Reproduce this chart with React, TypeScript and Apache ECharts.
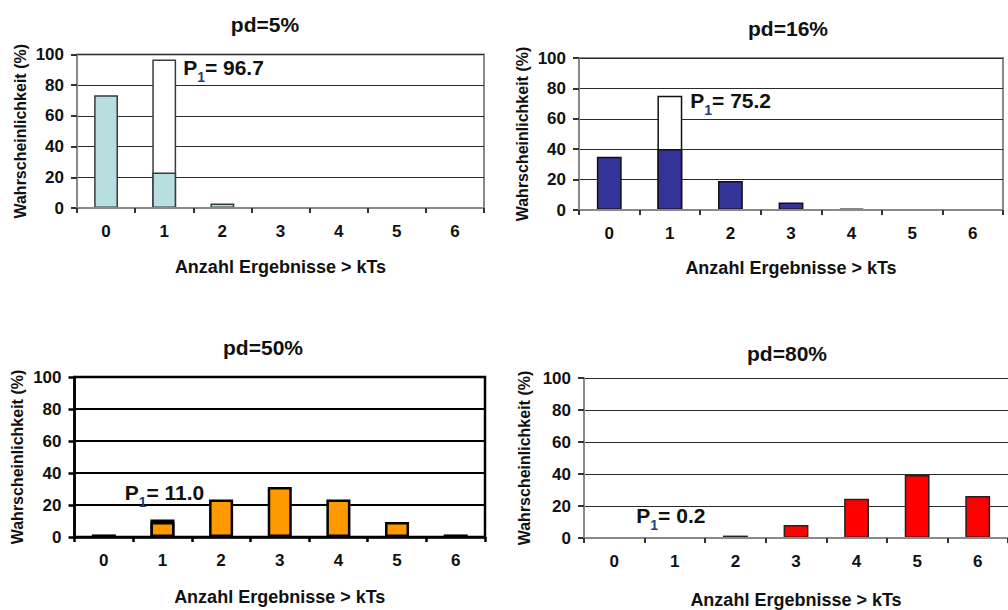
import React, { useEffect, useRef } from 'react';
import * as echarts from 'echarts';

// Number of results above kTs
const categories = ['0', '1', '2', '3', '4', '5', '6'];
const yTickValues = [0, 20, 40, 60, 80, 100];

const titles = ['pd=5%', 'pd=16%', 'pd=50%', 'pd=80%'];

// Probability (%) for each count, one array per default probability
const pd5 = [73.5, 23.2, 3.0, 0.2, 0, 0, 0];
const pd16 = [35.1, 40.1, 19.1, 4.9, 0.9, 0.05, 0];
const pd50 = [1.6, 9.4, 23.4, 31.3, 23.4, 9.4, 1.6];
const pd80 = [0.01, 0.15, 1.5, 8.2, 24.6, 39.3, 26.2];

// Cumulative probability P1 = P(0) + P(1)
const p1Values = [96.7, 75.2, 11.0, 0.2];

const xName = 'Anzahl Ergebnisse > kTs';
const yName = 'Wahrscheinlichkeit (%)';

const FONT = '"Liberation Sans", Arial, Helvetica, sans-serif';

const panels = [
  {
    values: pd5, p1: p1Values[0], title: titles[0],
    fill: '#B7DFE0', border: '#3a3a3a', borderW: 1.5,
    grid: { left: 77, top: 54.5, width: 407, height: 153.5 },
    titlePos: [265, 24],
    frame: { show: true, color: '#8a8a8a', width: 2 },
    split: { color: '#2a2a2a', width: 1 },
    axis: { color: '#8a8a8a', width: 2 },
    label: { mode: 'right', offset: [7, -9], distance: 0 },
    nameGap: 50, yNameGap: 49,
  },
  {
    values: pd16, p1: p1Values[1], title: titles[1],
    fill: '#333399', border: '#111111', borderW: 1.5,
    grid: { left: 579, top: 58, width: 424, height: 152 },
    titlePos: [788, 28],
    frame: { show: true, color: '#8a8a8a', width: 2 },
    split: { color: '#2a2a2a', width: 1 },
    axis: { color: '#8a8a8a', width: 2 },
    label: { mode: 'right', offset: [8, -12], distance: 0 },
    nameGap: 49, yNameGap: 49,
  },
  {
    values: pd50, p1: p1Values[2], title: titles[2],
    fill: '#FF9900', border: '#000000', borderW: 2.5,
    grid: { left: 74.5, top: 377, width: 410.5, height: 160 },
    titlePos: [263, 347],
    frame: { show: true, color: '#000000', width: 2.5 },
    split: { color: '#000000', width: 2 },
    axis: { color: '#000000', width: 2.5 },
    label: { mode: 'top', offset: [2, 0], distance: 10 },
    nameGap: 51, yNameGap: 49,
  },
  {
    values: pd80, p1: p1Values[3], title: titles[3],
    fill: '#FF0000', border: '#222222', borderW: 1.5,
    grid: { left: 584, top: 378, width: 429, height: 162 },
    titlePos: [787, 353],
    frame: { show: false, color: '#8a8a8a', width: 2 },
    split: { color: '#2a2a2a', width: 1 },
    axis: { color: '#8a8a8a', width: 2 },
    label: { mode: 'top', offset: [-4, 0], distance: 5 },
    nameGap: 53, yNameGap: 52,
  },
];

const rich = {
  m: { fontFamily: FONT, fontSize: 21, fontWeight: 'bold', color: '#111111', lineHeight: 33, verticalAlign: 'middle' },
  s: { fontFamily: FONT, fontSize: 14, fontWeight: 'bold', color: '#1F3F7A', lineHeight: 14, verticalAlign: 'bottom' },
};

function buildOption() {
  const grid: any[] = [];
  const xAxis: any[] = [];
  const yAxis: any[] = [];
  const series: any[] = [];
  const graphic: any[] = [];

  panels.forEach((pn, i) => {
    const tickColor = pn.axis.color === '#000000' ? '#000000' : '#333333';

    grid.push({
      ...pn.grid,
      show: pn.frame.show,
      borderColor: pn.frame.color,
      borderWidth: pn.frame.width,
      backgroundColor: 'transparent',
      containLabel: false,
    });

    // the category axis sits above the bars so that the baseline covers tiny bars
    xAxis.push({
      type: 'category',
      gridIndex: i,
      data: categories,
      boundaryGap: true,
      z: 5,
      axisLine: { show: true, lineStyle: { color: pn.axis.color, width: pn.axis.width } },
      axisTick: { show: true, length: 5, lineStyle: { color: tickColor, width: pn.axis.width } },
      axisLabel: { fontFamily: FONT, fontSize: 17, fontWeight: 'bold', color: '#111111', margin: 15 },
      splitLine: { show: false },
      name: xName,
      nameLocation: 'middle',
      nameGap: pn.nameGap,
      nameTextStyle: { fontFamily: FONT, fontSize: 18, fontWeight: 'bold', color: '#111111' },
    });

    yAxis.push({
      type: 'value',
      gridIndex: i,
      min: yTickValues[0],
      max: yTickValues[yTickValues.length - 1],
      interval: yTickValues[1] - yTickValues[0],
      axisLine: { show: true, lineStyle: { color: pn.axis.color, width: pn.axis.width } },
      axisTick: { show: true, length: 6, lineStyle: { color: tickColor, width: pn.axis.width } },
      axisLabel: { fontFamily: FONT, fontSize: 17, fontWeight: 'bold', color: '#111111', margin: 13 },
      splitLine: { show: true, lineStyle: { color: pn.split.color, width: pn.split.width } },
      name: yName,
      nameLocation: 'middle',
      nameRotate: 90,
      nameGap: pn.yNameGap,
      nameTextStyle: { fontFamily: FONT, fontSize: 16, fontWeight: 'bold', color: '#111111' },
    });

    const labelCommon: any = {
      show: true,
      formatter: (p: any) => `{m|P}{s|1}{m|= ${Number(p.value).toFixed(1)}}`,
      rich,
    };
    const label =
      pn.label.mode === 'right'
        ? { ...labelCommon, position: ['100%', 0], align: 'left', verticalAlign: 'top', offset: pn.label.offset }
        : { ...labelCommon, position: 'top', distance: pn.label.distance, offset: pn.label.offset };

    // cumulative P1 bar, drawn behind the single probabilities
    series.push({
      type: 'bar',
      name: 'P1 ' + pn.title,
      xAxisIndex: i,
      yAxisIndex: i,
      data: categories.map((_, k) => (k === 1 ? pn.p1 : '-')),
      barWidth: '41%',
      barGap: '-100%',
      itemStyle: { color: '#ffffff', borderColor: pn.border, borderWidth: pn.borderW },
      label,
      z: 2,
    });

    series.push({
      type: 'bar',
      name: pn.title,
      xAxisIndex: i,
      yAxisIndex: i,
      data: pn.values,
      barWidth: '41%',
      barGap: '-100%',
      itemStyle: { color: pn.fill, borderColor: pn.border, borderWidth: pn.borderW },
      z: 3,
    });

    graphic.push({
      type: 'text',
      x: pn.titlePos[0],
      y: pn.titlePos[1],
      style: {
        text: pn.title,
        fontFamily: FONT,
        fontSize: 21,
        fontWeight: 'bold',
        fill: '#111111',
        textAlign: 'center',
        textVerticalAlign: 'middle',
      },
    });
  });

  return {
    animation: false,
    backgroundColor: '#ffffff',
    textStyle: { fontFamily: FONT },
    grid,
    xAxis,
    yAxis,
    series,
    graphic,
  };
}

export default function App() {
  const ref = useRef<HTMLDivElement>(null);

  useEffect(() => {
    if (!ref.current) return;
    const chart = echarts.init(ref.current, undefined, { renderer: 'svg' });
    chart.setOption(buildOption() as any);
    return () => chart.dispose();
  }, []);

  return (
    <div
      ref={ref}
      style={{ position: 'absolute', left: 0, top: 0, width: 1008, height: 610, background: '#fff' }}
    />
  );
}
